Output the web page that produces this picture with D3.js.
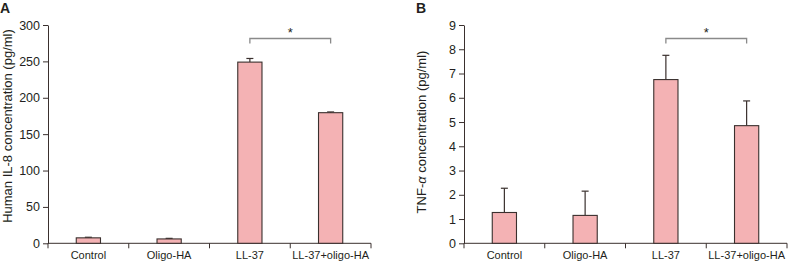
<!DOCTYPE html>
<html><head><meta charset="utf-8">
<script src="https://cdn.jsdelivr.net/npm/d3@7"></script>
<style>body{margin:0;background:#fff}svg{display:block}text{font-family:"Liberation Sans",Arial,sans-serif;fill:#231f20}</style>
</head><body>
<svg id="c" width="788" height="264"></svg>
<script>
const categories = ["Control","Oligo-HA","LL-37","LL-37+oligo-HA"];
const il8Values = [7.5, 6, 249, 179.5];
const il8Errors = [0.8, 0.8, 5, 1];
const il8Ticks = [0,50,100,150,200,250,300];
const tnfValues = [1.27, 1.15, 6.75, 4.85];
const tnfErrors = [1.0, 1.0, 1.0, 1.02];
const tnfTicks = [0,1,2,3,4,5,6,7,8,9];
const sigPair = ["LL-37","LL-37+oligo-HA"];

const svg = d3.select("#c");
const ink = "#3a302e";

function panel(o){
  const g = svg.append("g");
  const x = d3.scaleBand().domain(categories).range([o.x0, o.x1]).paddingInner(0.7).paddingOuter(0.35);
  const xb = d3.scaleBand().domain(categories).range([o.x0, o.x1]);
  const y = d3.scaleLinear().domain([0, o.max]).range([243.3, 25]);
  // y axis
  const ya = g.append("g").attr("transform",`translate(${o.x0},0)`)
    .call(d3.axisLeft(y).tickValues(o.ticks).tickSize(5).tickPadding(3).tickSizeOuter(0));
  ya.select(".domain").attr("stroke",ink);
  ya.selectAll(".tick line").attr("stroke",ink);
  ya.selectAll(".tick text").style("font-size","12.5px").attr("fill","#231f20");
  // x axis with ticks at band boundaries
  const xa = g.append("g").attr("transform",`translate(0,${y(0)})`);
  xa.append("line").attr("x1",o.x0).attr("x2",o.x1).attr("stroke",ink);
  const bounds = categories.map(c=>xb(c)).concat([o.x1]);
  xa.selectAll("line.tk").data(bounds).join("line").attr("class","tk")
    .attr("x1",d=>d).attr("x2",d=>d).attr("y1",0).attr("y2",5).attr("stroke",ink);
  xa.selectAll("text").data(categories).join("text")
    .attr("x",d=>xb(d)+xb.bandwidth()/2).attr("y",16).attr("text-anchor","middle")
    .style("font-size","11px").text(d=>d);
  // error bars
  categories.forEach((c,i)=>{
    const cx = x(c)+x.bandwidth()/2;
    g.append("line").attr("x1",cx).attr("x2",cx).attr("y1",y(o.values[i])).attr("y2",y(o.values[i]+o.errors[i])).attr("stroke",ink).attr("stroke-width",1.2);
    g.append("line").attr("x1",cx-3.5).attr("x2",cx+3.5).attr("y1",y(o.values[i]+o.errors[i])).attr("y2",y(o.values[i]+o.errors[i])).attr("stroke",ink).attr("stroke-width",1.2);
  });
  // bars
  g.selectAll("rect.bar").data(o.values).join("rect").attr("class","bar")
    .attr("x",(d,i)=>x(categories[i])).attr("width",x.bandwidth())
    .attr("y",d=>y(d)).attr("height",d=>y(0)-y(d))
    .attr("fill","#f4b2b4").attr("stroke",ink).attr("stroke-width",1.1);
  // significance bracket
  const bx1 = xb(sigPair[0])+xb.bandwidth()/2, bx2 = xb(sigPair[1])+xb.bandwidth()/2;
  g.append("path").attr("d",`M${bx1},43.5V38.5H${bx2}V43.5`).attr("fill","none").attr("stroke","#8a8a8a").attr("stroke-width",1.3);
  g.append("text").attr("x",(bx1+bx2)/2).attr("y",37).attr("text-anchor","middle").style("font-size","13px").text("*");
  // y title
  g.append("text").attr("transform",`translate(${o.tx},${o.ty}) rotate(-90)`).attr("text-anchor","middle")
    .style("font-size","13px").html(o.title);
  // panel label
  g.append("text").attr("x",o.lx).attr("y",13).style("font-size","14px").style("font-weight","bold").text(o.label);
}

panel({x0:48, x1:371, max:300, ticks:il8Ticks, values:il8Values, errors:il8Errors,
  title:"Human IL-8 concentration (pg/ml)", tx:11.5, ty:126, label:"A", lx:0});
panel({x0:464, x1:787, max:9, ticks:tnfTicks, values:tnfValues, errors:tnfErrors,
  title:'TNF-<tspan style="font-style:italic">α</tspan> concentration (pg/ml)', tx:426, ty:132, label:"B", lx:416});
</script>
</body></html>
